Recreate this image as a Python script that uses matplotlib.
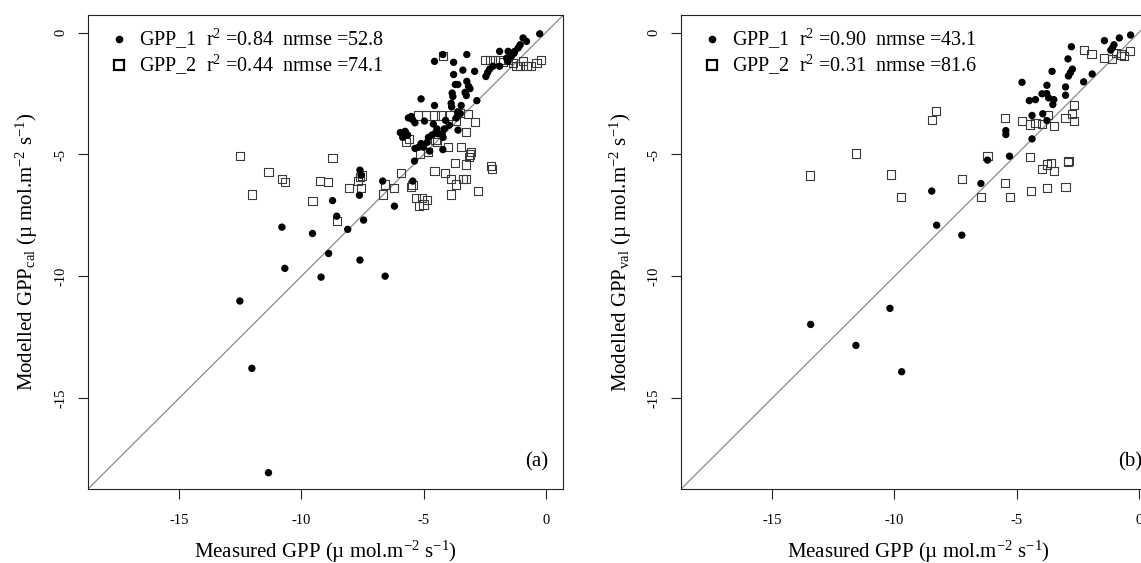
"""
GPP scatter: measured vs modelled GPP for the calibration (a)
and validation (b) periods, two model variants per panel.
"""

import matplotlib.pyplot as plt
from matplotlib.lines import Line2D

plt.rcParams["font.family"] = ["Liberation Serif", "DejaVu Serif"]
plt.rcParams["mathtext.fontset"] = "custom"
plt.rcParams["mathtext.rm"] = "Liberation Serif"
plt.rcParams["mathtext.it"] = "Liberation Serif:italic"
plt.rcParams["axes.unicode_minus"] = False

LIMS = (-18.72, 0.72)
TICKS = [-15, -10, -5, 0]

# ---- calibration (a) ----
cal_gpp1_meas = [
    -0.25, -0.93, -0.79, -1.05, -1.13, -1.27, -1.3, -1.41, -1.54, -1.6, -1.89,
    -1.54, -1.89, -2.16, -2.3, -2.38, -2.45,
    -4.55, -4.21, -3.77, -3.23, -3.39, -2.91, -3.77, -3.23, -3.7, -3.6,
    -3.16, -3.1, -3.83, -3.8, -3.3, -3.25, -5.1, -2.82, -4.55, -3.87, -3.85,
    -3.46, -3.6, -3.5, -5.5, -5.62,
    -5.45, -5.35, -4.96, -4.6, -4.45, -4.5, -4.4, -4.65, -4.1, -3.95, -4.15,
    -3.66, -4.24, -4.2, -3.59, -5.95, -5.75, -5.65, -5.85, -4.8, -4.85,
    -5.1, -5.0, -5.35, -5.2, -4.75, -4.21, -5.37,
    -6.67, -5.44, -6.19, -7.6, -7.55, -8.72, -7.62, -8.55, -7.45, -10.79,
    -9.54, -8.1, -8.88, -7.6, -10.67, -9.19, -6.57, -12.51, -12.02, -11.34,
]
cal_gpp1_mod = [
    -0.05, -0.22, -0.36, -0.5, -0.63, -0.77, -0.85, -0.97, -0.77, -1.05, -0.77,
    -1.18, -1.38, -1.38, -1.5, -1.64, -1.8,
    -1.18, -0.9, -1.22, -0.9, -1.54, -1.59, -1.72, -2.0, -2.13, -2.13,
    -2.2, -2.3, -2.48, -2.62, -2.45, -2.58, -2.72, -2.79, -2.99, -2.9, -3.05,
    -2.99, -3.25, -3.32, -3.44, -3.5,
    -3.57, -3.7, -3.63, -3.75, -3.95, -4.1, -4.15, -4.2, -3.6, -3.8, -3.95,
    -3.5, -4.15, -4.3, -4.0, -4.1, -4.05, -4.2, -4.3, -4.3, -4.5,
    -4.55, -4.7, -4.75, -4.7, -4.86, -4.8, -5.27,
    -6.09, -6.09, -7.12, -5.64, -5.85, -6.89, -6.67, -7.53, -7.69, -7.98,
    -8.24, -8.07, -9.06, -9.33, -9.67, -10.03, -9.99, -11.01, -13.77, -18.05,
]
cal_gpp2_meas = [
    -4.21, -2.5, -2.3, -2.09, -1.89, -1.75, -1.54, -1.34, -1.2, -1.07, -0.95,
    -0.79, -0.59, -0.38, -0.18,
    -5.23, -4.89, -4.55, -4.27, -3.93, -3.52, -3.18, -2.91, -3.66, -3.25,
    -5.7, -5.6, -4.51, -4.45, -4.0, -3.46, -3.11, -3.05, -3.15, -5.16, -4.8,
    -3.73, -3.25, -2.23, -2.2, -4.55, -4.14, -3.87, -3.4, -3.25, -3.66,
    -2.77, -3.87, -5.91, -6.19, -6.67, -5.5, -5.45, -5.3, -5.05, -4.85,
    -5.2, -5.0,
    -12.51, -8.72, -11.34, -10.79, -10.66, -12.02, -9.22, -8.89, -9.54,
    -8.06, -7.58, -7.5, -7.55, -7.69, -8.54, -6.56,
]
cal_gpp2_mod = [
    -0.97, -1.11, -1.11, -1.11, -1.11, -1.2, -1.11, -1.24, -1.38, -1.38, -1.15,
    -1.38, -1.38, -1.24, -1.11,
    -3.4, -3.4, -3.4, -3.4, -3.4, -3.3, -3.35, -3.68, -3.63, -4.07,
    -4.47, -4.35, -4.39, -4.5, -4.7, -4.7, -5.0, -4.9, -5.1, -4.96, -4.9,
    -5.34, -5.41, -5.48, -5.61, -5.68, -5.75, -6.02, -6.0, -6.0, -6.23,
    -6.5, -6.64, -5.75, -6.37, -6.64, -6.33, -6.25, -6.8, -6.8, -6.85,
    -7.1, -7.05,
    -5.07, -5.14, -5.71, -6.02, -6.12, -6.64, -6.09, -6.13, -6.89,
    -6.37, -5.94, -5.86, -6.37, -6.09, -7.73, -6.23,
]

# ---- validation (b) ----
val_gpp1_meas = [
    -0.34, -0.8, -1.41, -1.02, -1.08, -1.15, -2.76, -2.9, -2.72, -2.8, -2.88,
    -3.55, -1.91, -2.26, -4.78, -3.76, -3.0, -3.96, -3.77, -3.69, -3.48,
    -3.52, -3.0, -4.48, -4.23, -4.37, -3.93, -3.76, -5.44, -5.44, -4.37,
    -5.29, -6.19, -6.46, -8.47, -8.27, -7.24, -13.42, -10.18, -11.57, -9.7,
]
val_gpp1_mod = [
    -0.1, -0.22, -0.33, -0.5, -0.62, -0.72, -0.58, -1.08, -1.5, -1.64, -1.78,
    -1.59, -1.7, -2.02, -2.04, -2.16, -2.23, -2.51, -2.5, -2.68, -2.75,
    -2.95, -2.57, -2.79, -2.75, -3.4, -3.33, -3.61, -4.02, -4.18, -4.36,
    -5.07, -5.23, -6.19, -6.5, -7.9, -8.31, -11.97, -11.31, -12.83, -13.91,
]
val_gpp2_meas = [
    -2.25, -1.94, -1.43, -1.09, -0.95, -0.75, -0.61, -0.38,
    -8.31, -8.47, -5.46, -4.78, -4.44, -4.23, -3.96, -3.71, -3.48,
    -2.66, -2.73, -3.0, -2.66,
    -11.57, -13.43, -10.15, -9.73, -7.24, -6.19, -6.46, -5.46, -5.26,
    -4.44, -4.4, -3.96, -3.76, -3.58, -3.48, -3.76, -3.0, -2.9, -2.88,
]
val_gpp2_mod = [
    -0.7, -0.86, -1.04, -1.08, -0.83, -0.9, -0.97, -0.77,
    -3.22, -3.57, -3.52, -3.63, -3.77, -3.7, -3.74, -3.39, -3.84,
    -2.98, -3.33, -3.5, -3.61,
    -4.96, -5.86, -5.82, -6.73, -6.02, -5.07, -6.75, -6.16, -6.75,
    -5.11, -6.5, -5.61, -5.41, -5.34, -5.68, -6.39, -6.34, -5.3, -5.28,
]

r2_cal = [0.84, 0.44]
nrmse_cal = [52.8, 74.1]
r2_val = [0.90, 0.31]
nrmse_val = [43.1, 81.6]

UNITS = r" (µ mol.m$^{-2}$ s$^{-1}$)"


def draw_panel(ax, x1, y1, x2, y2, r2, nrmse, sub, tag):
    ax.axline((0, 0), slope=1, color="#8a8a8a", lw=0.9, zorder=1)
    ax.scatter(x2, y2, marker="s", s=34, facecolors="none",
               edgecolors="#3a3a3a", linewidths=0.8, zorder=2)
    ax.scatter(x1, y1, marker="o", s=28, color="black",
               edgecolors="none", zorder=3)

    ax.set_xlim(LIMS)
    ax.set_ylim(LIMS)
    ax.set_xticks(TICKS)
    ax.set_yticks(TICKS)
    ax.tick_params(length=7, width=0.8, color="#222222", labelsize=10.5)
    ax.tick_params(axis="x", pad=11)
    ax.tick_params(axis="y", pad=8, labelrotation=90)
    for lab in ax.get_yticklabels():
        lab.set_va("center")
    for sp in ax.spines.values():
        sp.set_linewidth(0.8)
        sp.set_color("#222222")

    ax.set_xlabel("Measured GPP" + UNITS, fontsize=15)
    ax.set_ylabel("Modelled GPP$_{\\mathrm{" + sub + "}}$" + UNITS, fontsize=15)
    ax.xaxis.set_label_coords(0.5, -0.105)
    ax.yaxis.set_label_coords(-0.1, 0.5)

    handles = [
        Line2D([], [], ls="none", marker="o", ms=5.5, color="black", mec="none"),
        Line2D([], [], ls="none", marker="s", ms=6.5, mfc="none",
               mec="black", mew=1.6),
    ]
    labels = [
        f"GPP_1  r$^2$ ={r2[0]:.2f}  nrmse ={nrmse[0]:.1f}",
        f"GPP_2  r$^2$ ={r2[1]:.2f}  nrmse ={nrmse[1]:.1f}",
    ]
    ax.legend(handles, labels, loc="upper left", bbox_to_anchor=(0.044, 0.975),
              frameon=False, fontsize=14.5, handlelength=1.0,
              handletextpad=0.5, labelspacing=0.12, borderpad=0,
              borderaxespad=0)

    ax.text(0.944, 0.057, tag, transform=ax.transAxes, fontsize=15,
            ha="center", va="center")


def main():
    fig = plt.figure(figsize=(11.41, 5.63), dpi=100)
    ax_a = fig.add_axes([0.0771, 0.1314, 0.4167, 0.8419])
    ax_b = fig.add_axes([0.5969, 0.1314, 0.4167, 0.8419])

    draw_panel(ax_a, cal_gpp1_meas, cal_gpp1_mod, cal_gpp2_meas, cal_gpp2_mod,
               r2_cal, nrmse_cal, "cal", "(a)")
    draw_panel(ax_b, val_gpp1_meas, val_gpp1_mod, val_gpp2_meas, val_gpp2_mod,
               r2_val, nrmse_val, "val", "(b)")

    fig.savefig("out.png", dpi=100)
    plt.close(fig)


if __name__ == "__main__":
    main()
